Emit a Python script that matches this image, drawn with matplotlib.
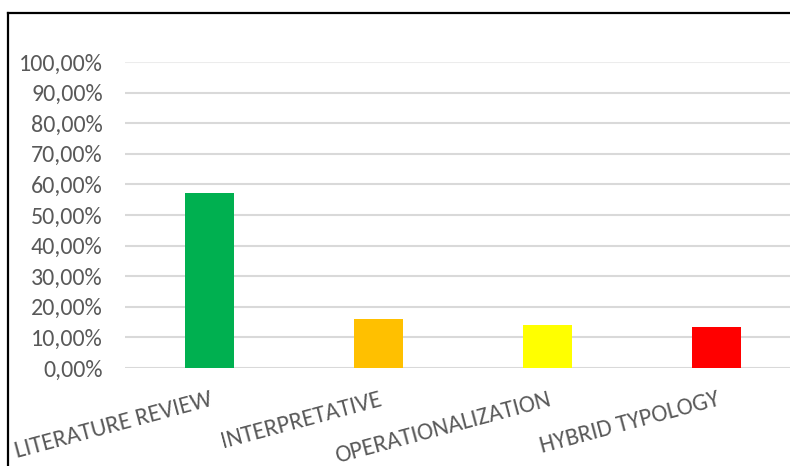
import matplotlib.pyplot as plt
from matplotlib.lines import Line2D
from matplotlib.ticker import FuncFormatter

categories = ["LITERATURE REVIEW", "INTERPRETATIVE", "OPERATIONALIZATION", "HYBRID TYPOLOGY"]
values = [0.572, 0.160, 0.140, 0.134]
colors = ["#00B050", "#FFC000", "#FFFF00", "#FF0000"]
yticks = [0, 0.1, 0.2, 0.3, 0.4, 0.5, 0.6, 0.7, 0.8, 0.9, 1.0]

plt.rcParams["font.family"] = ["Carlito", "DejaVu Sans"]

fig = plt.figure(figsize=(7.9, 4.66), dpi=100)
ax = fig.add_axes([125 / 790, 98 / 466, 676 / 790, 306 / 466])

x = list(range(len(categories)))
ax.bar(x, values, width=0.29, color=colors, zorder=3)

ax.set_xlim(-0.5, 3.5)
ax.set_ylim(0, 1)
ax.set_yticks(yticks)
ax.yaxis.set_major_formatter(FuncFormatter(lambda v, p: f"{v * 100:.2f}%".replace(".", ",")))
ax.grid(axis="y", color="#d9d9d9", linewidth=1.5, zorder=0)
ax.get_ygridlines()[-1].set_color("#ececec")
for s in ax.spines.values():
    s.set_visible(False)
ax.tick_params(axis="y", length=0, pad=16, labelsize=17.3, labelcolor="#595959")
ax.tick_params(axis="x", length=0, pad=15, labelsize=17.5, labelcolor="#595959")
ax.set_xticks(x)
ax.set_xticklabels(categories, rotation=15, ha="right", va="top", rotation_mode="anchor")

# frame of the original chart area (cropped on right and bottom)
fig.add_artist(Line2D([8 / 790, 8 / 790], [0, 453.5 / 466], color="black", linewidth=1.6))
fig.add_artist(Line2D([8 / 790, 1], [453.5 / 466, 453.5 / 466], color="black", linewidth=1.6))

fig.savefig("out.png", dpi=100)
